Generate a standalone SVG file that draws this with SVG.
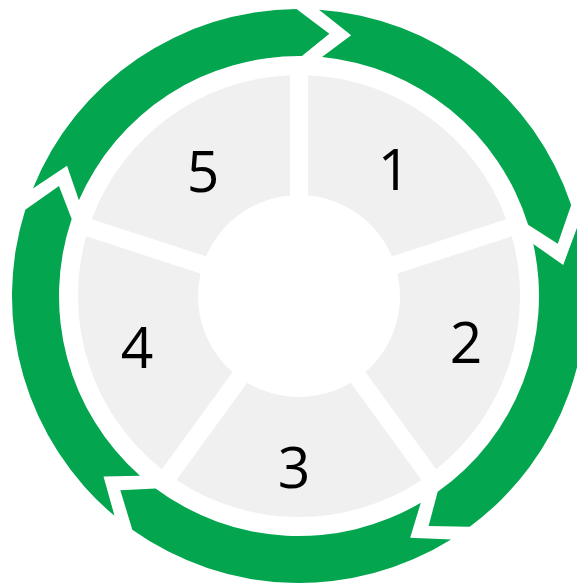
<svg xmlns="http://www.w3.org/2000/svg" xmlns:xlink="http://www.w3.org/1999/xlink" width="577" height="584" viewBox="0 0 577 584">
<style>
.seg{fill:#F0F0F0}
.arrow{fill:#03A64E}
.lbl{font-family:"Open Sans","Noto Sans",sans-serif;font-size:57px;fill:#000;text-anchor:middle}
</style>
<defs>
<path id="segShape" d="M 9,-220.82 A 221 221 0 0 1 207.23,-76.80 L 92.90,-39.65 A 101 101 0 0 0 9,-100.60 Z"/>
<path id="arrowShape" d="M -266.10,-107.51 A 287 287 0 0 1 -2.50,-286.99 L 30.34,-262.25 L 2.93,-239.98 A 240 240 0 0 0 -220.09,-95.70 L -231.97,-130.18 Z"/>
</defs>
<rect width="577" height="584" fill="#FFFFFF"/>
<g id="connectors" class="arrow">
<use xlink:href="#arrowShape" transform="translate(299,296) rotate(0)"/>
<use xlink:href="#arrowShape" transform="translate(299,296) rotate(72)"/>
<use xlink:href="#arrowShape" transform="translate(299,296) rotate(144)"/>
<use xlink:href="#arrowShape" transform="translate(299,296) rotate(216)"/>
<use xlink:href="#arrowShape" transform="translate(299,296) rotate(288)"/>
</g>
<g id="node1">
<use class="seg" xlink:href="#segShape" transform="translate(299,296) rotate(0)"/>
<text class="lbl" x="394" y="190">1</text>
</g>
<g id="node2">
<use class="seg" xlink:href="#segShape" transform="translate(299,296) rotate(72)"/>
<text class="lbl" x="466" y="363">2</text>
</g>
<g id="node3">
<use class="seg" xlink:href="#segShape" transform="translate(299,296) rotate(144)"/>
<text class="lbl" x="294" y="488">3</text>
</g>
<g id="node4">
<use class="seg" xlink:href="#segShape" transform="translate(299,296) rotate(216)"/>
<text class="lbl" x="137" y="368">4</text>
</g>
<g id="node5">
<use class="seg" xlink:href="#segShape" transform="translate(299,296) rotate(288)"/>
<text class="lbl" x="203" y="192">5</text>
</g>
</svg>
